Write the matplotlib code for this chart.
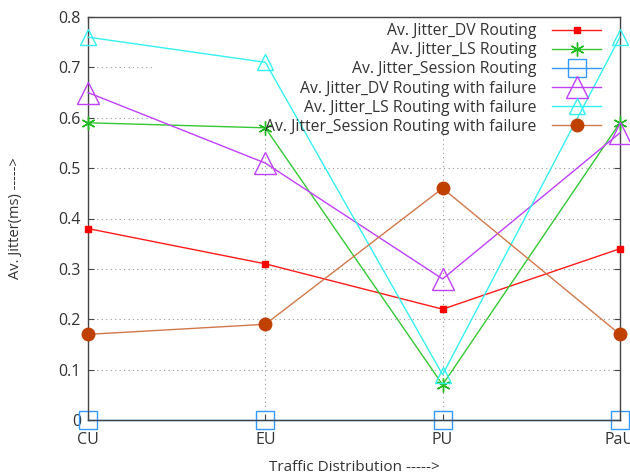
import matplotlib
matplotlib.use("Agg")
import matplotlib.pyplot as plt
from matplotlib.patches import Rectangle

# Categories (traffic distributions)
cats = ["CU", "EU", "PU", "PaU"]

# Series values
dv = [0.38, 0.31, 0.22, 0.34]
ls = [0.59, 0.58, 0.07, 0.59]
sess = [0.0, 0.0, 0.0, 0.0]
dv_fail = [0.65, 0.51, 0.28, 0.57]
ls_fail = [0.76, 0.71, 0.09, 0.76]
sess_fail = [0.17, 0.19, 0.46, 0.17]

labels = ["Av. Jitter_DV Routing",
          "Av. Jitter_LS Routing",
          "Av. Jitter_Session Routing",
          "Av. Jitter_DV Routing with failure",
          "Av. Jitter_LS Routing with failure",
          "Av. Jitter_Session Routing with failure"]

plt.rcParams['font.family'] = ['Open Sans', 'DejaVu Sans']

fig = plt.figure(figsize=(6.3, 4.75), dpi=100)
ax = fig.add_axes([0.1397, 0.1158, 0.8443, 0.8484])
x = list(range(len(cats)))

ax.plot(x, dv, color='#ff1a1a', lw=1.0, marker='s', ms=5, mfc='#ff0000', mec='#ff0000',
        label=labels[0], clip_on=False, zorder=3)
ax.plot(x, ls, color='#33c833', lw=1.0, marker=(6, 2, 0), ms=10, mew=1.0, mec='#22bb22',
        label=labels[1], clip_on=False, zorder=3)
# session routing sits on the x axis, drawn under the axis line
ax.plot(x, sess, color='#3399ff', lw=1.0, marker='s', ms=13, mfc='none', mec='#3399ff', mew=1.0,
        label=labels[2], clip_on=False, zorder=2)
ax.plot(x, dv_fail, color='#c040ff', lw=1.0, marker='^', ms=16, mfc='none', mec='#c040ff', mew=1.0,
        label=labels[3], clip_on=False, zorder=3)
ax.plot(x, ls_fail, color='#33f0f0', lw=1.0, marker='^', ms=11, mfc='none', mec='#33f0f0', mew=1.0,
        label=labels[4], clip_on=False, zorder=3)
ax.plot(x, sess_fail, color='#d0784a', lw=1.0, marker='o', ms=9, mfc='#c04000', mec='#c04000',
        label=labels[5], clip_on=False, zorder=3)

ax.set_xlim(0, 3)
ax.set_ylim(0, 0.8)
ax.set_xticks(x)
ax.set_xticklabels(cats)
ax.set_yticks([0, 0.1, 0.2, 0.3, 0.4, 0.5, 0.6, 0.7, 0.8])
ax.set_yticklabels(["0", "0.1", "0.2", "0.3", "0.4", "0.5", "0.6", "0.7", "0.8"])
ax.tick_params(direction='in', length=4, width=0.8, color='#444444', labelsize=11.5,
               labelcolor='#333333', top=True, right=True)
ax.tick_params(axis='x', pad=9)
ax.tick_params(axis='y', pad=5)

ax.set_axisbelow(True)
ax.grid(True, linestyle=(0, (1, 3)), color='#999999', lw=0.8)

# white key area hides the grid behind the legend
ax.add_patch(Rectangle((0.12, 0.717), 0.88, 0.283, transform=ax.transAxes,
                       facecolor='white', edgecolor='none', zorder=1))

for s in ax.spines.values():
    s.set_color('#444444')
    s.set_linewidth(1.0)
    s.set_zorder(2.5)

ax.set_xlabel("Traffic Distribution ----->", fontsize=11, color='#333333', labelpad=8)
ax.set_ylabel("Av. Jitter(ms) ----->", fontsize=10.5, color='#333333', labelpad=26)

leg = ax.legend(loc='upper right', bbox_to_anchor=(0.985, 1.012), frameon=False, markerfirst=False,
                fontsize=11.3, handlelength=3.1, handletextpad=1.0, labelspacing=0.2,
                borderaxespad=0.3)
for t in leg.get_texts():
    t.set_color('#333333')

fig.savefig("out.png", dpi=100)
